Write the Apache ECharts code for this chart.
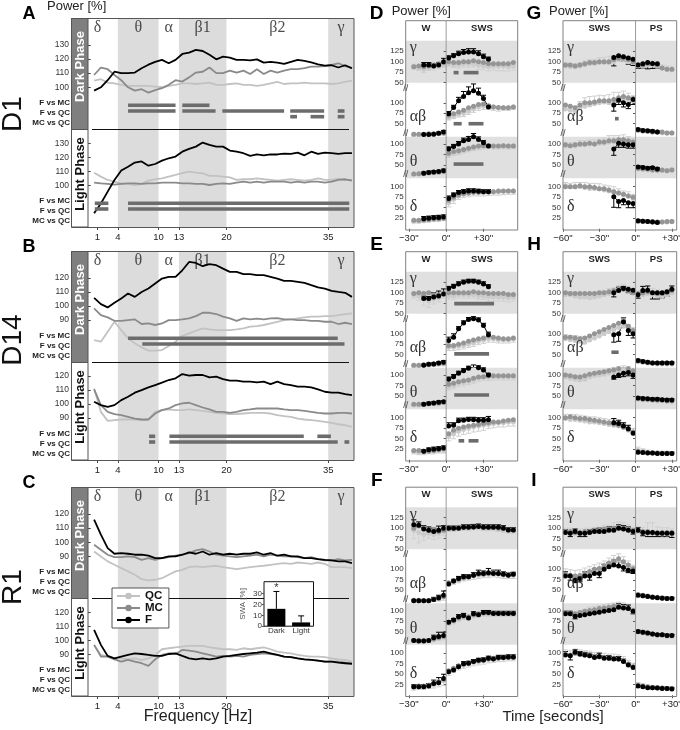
<!DOCTYPE html>
<html><head><meta charset="utf-8"><title>EEG power</title>
<script src="https://cdn.jsdelivr.net/npm/echarts@6.0.0/dist/echarts.min.js"></script>
<style>html,body{margin:0;padding:0;background:#fff;}#chart{width:680px;height:730px;}</style>
</head><body><div id="chart"></div>
<script>
// ================= DATA =================
const freqs = [0.5,1.5,2.5,3.5,4.5,5.5,6.5,7.5,8.5,9.5,10.5,11.5,12.5,13.5,14.5,15.5,16.5,17.5,18.5,19.5,20.5,21.5,22.5,23.5,24.5,25.5,26.5,27.5,28.5,29.5,30.5,31.5,32.5,33.5,34.5,35.5,36.5,37.5,38.5];
const freqTicks = [1,4,10,13,20,35];
const bandRanges = [[4,10],[13,20],[35,38.8]];
const bandNames = ['δ','θ','α','β1','β2','γ'];
const bandLabelFreq = [1,7,11.5,16.5,27.5,36.9];
const sigRowNames = ['F vs MC','F vs QC','MC vs QC'];

const A_dark_QC = [104.7,105.7,103.3,102.8,101.7,101,101,101,101,100.5,100,101,101.7,102.8,102.8,102.3,102.8,103.3,101.7,101.7,102.3,102.8,101.7,101.7,101,101.7,102.8,103.8,102.3,102.8,102.8,103.3,102.8,102.8,102.8,102.3,102.8,103.8,104.7];
const A_dark_MC = [108.7,114,112.8,108.7,105,100,97.6,98.6,96.2,98,99.3,101.7,105,104,107,110.4,111,114,110,110,111.8,110.4,111.8,109.4,112.8,109.4,111.8,110.4,111.8,112.8,112.8,113.5,114.6,114.6,115,115.8,117,115,113.5];
const A_dark_F = [97.6,100,105,111,110,110,110.4,113.5,116,118,119.4,117,119.4,123.6,124.6,126.5,125.7,123,119.8,121.7,121,119.4,119.4,119,119.8,117.5,118,117.5,116.5,118,119.4,118.7,117.7,116.3,115.4,115.6,114,115.6,113.5];
const A_light_QC = [109,106.2,103.8,102.6,101.4,101,100.2,101,103.3,104.3,105,106.2,107.4,108.6,109.8,109,108.6,106.7,106.7,106.2,105.7,103.8,104.3,104.3,105,104.3,103.8,103.3,103.8,104.3,103.8,103.3,103.8,105,103.8,103.8,104.8,103.8,103.8];
const A_light_MC = [101.9,101.4,101,100.5,101,101.4,101.4,101,101.4,101.4,101.9,101.9,101.9,101.4,101.4,101,101,100.2,101,101.4,101,101.9,102.6,101.9,102.6,101.9,102.6,102.6,102.6,101.9,102.6,101.9,102.6,102.6,101.9,102.6,103.8,104.3,103.3];
const A_light_F = [80,87,95.5,103.8,110.5,113.3,116.2,117,114,115.2,117.6,119.3,120.5,124,126,127.6,130.5,128.8,127.6,127.6,124.8,124,122.9,121,122,121.4,122,122,122.6,122.4,123.3,121.4,124,122.4,123.3,122.9,122.4,122.9,122.9];

const B_dark_QC = [75.8,74.6,81.7,88.8,82.9,77,73.5,70.6,68.3,68.3,68.7,71.6,74.6,78.7,80.5,82.4,84.1,83.4,82.9,82.9,82.9,83.4,84.1,85.3,85.7,86.5,87.6,88.8,90,90.5,91.2,91.9,92.4,92.4,92.8,92.8,93.5,94.3,94.7];
const B_dark_MC = [98.3,93.5,91.9,89.5,89.5,90,90.5,87.2,87.6,86.5,87.6,90,90,90.5,91.2,92.8,95.2,95.2,94.3,92.4,91.2,89.5,91.2,90.5,91,90.5,91.2,91.4,90.5,90.5,90,90,89.5,89.5,88.8,88.8,87.2,88.1,87.2];
const B_dark_F = [105.8,101.3,99,102.3,105.4,108.9,106.5,110,112.4,116,119.5,120.7,120.7,125.4,131.3,130.6,128.3,129.7,129,126.6,124.3,124.3,122.6,122.6,121.9,121.9,120.7,119.5,117.9,117.9,117.2,116.5,114.8,113.2,112.4,110.8,110,109.4,106.5];
const B_light_QC = [111,94.3,87.8,88.3,88.8,88.8,88.8,88.3,88.8,94.3,95.5,96,95.5,95.5,96,95.5,95,94.3,93.6,93.1,92.6,92.6,93.1,93.6,93.6,93.6,93.1,91.9,91.2,90.7,89.5,88.8,88.3,87.8,87.1,86.4,85.4,84.7,83.5];
const B_light_MC = [110.4,99.1,94.3,92.6,91.9,90.7,89.5,88.8,88.8,93.1,95.5,96.7,99.1,100.3,100.8,99.1,97.4,96,94.3,94.3,93.6,94.3,95.5,96,96.7,96.7,96.7,96.7,96,95.5,95.5,95,94.3,93.6,93.1,93.1,93.6,93.6,93.1];
const B_light_F = [101.5,99.1,97.9,99.1,102.7,105.1,108,109.9,111.8,113.5,115.2,117.1,118.3,121.4,120.2,120.7,120.7,119,119.5,117.8,116.6,116.6,115.9,115.9,115.4,115.9,114.2,115.9,114.2,113.5,112.3,112.3,111.8,110.4,108.7,108,108,107,106.3];

const C_dark_QC = [93.5,90,86.5,84.1,81.7,79.4,77,73.9,73,73.5,74.6,77,79.4,80.5,82.4,82.9,82.4,82.9,83.4,82.4,81.7,81,81.7,82.4,82.9,83.4,84.1,84.8,85.3,84.8,85.7,85.3,84.8,85.7,84.8,82.4,82.4,82.4,81.7];
const C_dark_MC = [98.3,94.7,91.2,89.5,89.5,90,89.5,87.6,88.8,87.6,88.8,89.5,90.5,91.2,92.4,94.3,95.2,93.5,91.2,90.5,90,89.5,90,90.5,91.2,90,91.2,90.5,90,90,89.5,88.8,89.5,88.1,87.2,87.2,88.1,87.2,87.6];
const C_dark_F = [116,105.4,95.9,91.9,92.4,91.9,91.2,91.2,90.5,88.8,88.8,90,90,91.2,92.8,91.9,93.5,91.2,92.4,91.2,91.9,91.2,91.9,91.9,92.8,91.2,92.4,90.5,91.2,90,90,88.8,88.8,88.1,87.6,87.2,86.5,86.5,85.3];
const C_light_QC = [96.7,89.5,88.3,87.1,87.1,86.4,87.1,85.9,87.1,89.5,93.6,94.3,95,95.5,96,96,96,95,94.3,93.6,93.6,93.1,94.3,93.6,94.3,95,93.6,91.9,91.2,90.7,89.5,88.8,88.3,88.3,87.9,87.1,86.4,86,84.8];
const C_light_MC = [96.7,88.3,88.3,86.4,84.8,86,84.8,83.6,81.7,86.4,89.5,90.7,90.2,93.1,92.6,91.9,90.7,89.5,88.3,88.8,88.3,88.8,88.3,89.5,90.2,90.7,90.2,89.5,88.3,87.9,87.1,86.4,86,85.5,84.8,84.8,84.8,84,83.6];
const C_light_F = [107.4,96.7,88.8,87.1,88.3,89.5,90.7,90.2,89.5,88.8,88.8,90.2,90.7,88.8,87.1,86.4,87.1,86.4,87.1,88.3,88.8,89.5,90.2,90.7,91.2,91.9,90.7,89.5,88.3,87.9,87.1,86.4,86,85.5,84.8,84.8,84,83.6,83.1];

// significance rows: [row (0 F vs MC, 1 F vs QC, 2 MC vs QC), fromHz, toHz]
const A_dark_sig = [[0,5.5,12.5],[0,13.5,17.5],[1,5.5,12.5],[1,13.5,18.4],[1,19.4,28.5],[1,29.4,34.4],[1,36.4,37.4],[2,29.4,30.4],[2,32.4,34.4],[2,36.4,37.4]];
const A_light_sig = [[0,0.6,2.6],[0,5.5,38.1],[1,0.6,2.6],[1,5.5,38.1]];
const B_dark_sig = [[0,5.5,36.4],[1,7.6,37.4]];
const B_light_sig = [[0,8.6,9.5],[0,11.6,31.4],[0,33.4,35.4],[1,8.6,9.5],[1,11.6,36.4],[1,37.4,38.1]];
const C_dark_sig = [];
const C_light_sig = [];

// inset SWA
const swaCats = ['Dark','Light'];
const swaVals = [16,3.5];
const swaErr = [16,6];
const swaMark = ['*',''];

// time (s) relative to transition
const T_WS = [-26,-22,-18,-14,-10,-6,-2,2,6,10,14,18,22,26,30,34,38,42,46,50,54];
const T_SP = [-58,-54,-50,-46,-42,-38,-34,-30,-26,-22,-18,-14,-10,-6,-2,2,6,10,14,18,22,26,30];
const ticksWS = [-30,0,30];
const ticksSP = [-60,-30,0,30];

// Panel D
const D_gam_QC = [90,85,82,85,88,90,92,95,92,92,95,95,95,92,90,88,90,90,90,88,90];
const D_gam_MC = [88,90,88,90,92,95,98,100,98,98,100,100,102,100,98,95,95,95,95,95,98];
const D_gam_F = [null,null,92,92,90,92,100,109,114,119,122,123,123,119,112,106,null,null,null,null,null];
const D_gam_Fe = [null,null,6,6,5,6,8,5,5,6,7,8,8,7,6,5,null,null,null,null,null];
const D_gam_Qe = [-8,-6,-8,-6,-8,-6,-5,-6,-6,-8,-8,-8,-8,-10,-10,-10,-10,-12,-12,-10,-10];
const D_ab_QC = [24,24,25,25,25,26,27,65,68,72,75,80,85,90,92,92,90,88,88,88,90];
const D_ab_MC = [25,25,25,26,26,27,28,70,74,78,82,88,92,96,97,93,90,89,88,88,90];
const D_ab_F = [null,null,24,24,25,27,30,74,89,105,115,124,129,123,110,90,null,null,null,null,null];
const D_ab_Fe = [null,null,3,3,3,3,4,5,5,8,12,14,16,12,8,5,null,null,null,null,null];
const D_ab_Qe = [-3,-3,-3,-3,-3,-3,-3,-6,-6,-6,-8,-8,-8,-8,-8,-8,-8,-8,-6,-6,-6];
const D_th_QC = [28,28,29,30,31,32,33,74,78,80,84,87,90,92,94,95,94,94,95,94,95];
const D_th_MC = [28,29,30,31,32,33,35,78,82,84,87,90,93,95,96,95,95,95,96,95,95];
const D_th_F = [null,null,30,32,33,34,36,88,94,100,108,111,117,111,103,95,null,null,null,null,null];
const D_th_Fe = [null,null,3,3,3,3,4,5,5,6,6,7,8,6,5,4,null,null,null,null,null];
const D_th_Qe = [-3,-3,-3,-3,-3,-3,-3,-6,-6,-6,-6,-6,-6,-6,-6,-6,-6,-6,-6,-6,-6];
const D_de_QC = [18,18,19,20,22,22,24,62,70,78,82,84,86,86,86,87,88,88,89,90,90];
const D_de_MC = [20,20,21,22,23,24,25,68,75,80,83,85,87,87,88,88,88,90,90,90,90];
const D_de_F = [null,null,24,25,26,27,28,72,80,86,88,90,90,89,88,88,null,null,null,null,null];
const D_de_Fe = [null,null,5,5,5,5,5,6,5,5,5,5,5,5,5,5,null,null,null,null,null];
const D_de_Qe = [-4,-4,-4,-4,-4,-4,-4,-10,-10,-8,-8,-8,-8,-8,-8,-8,-8,-8,-8,-8,-8];
const D_sig = [['gam',6,10,74],['gam',14,26,74],['ab',6,12.5,50],['ab',18,30,50],['th',6,30,52]];

// Panel E
const E_gam_QC = [95,92,85,80,85,88,95,92,92,95,95,95,95,92,92,90,90,90,90,88,90];
const E_gam_MC = [98,100,98,100,95,95,98,100,100,100,100,100,102,100,100,98,98,98,98,96,96];
const E_gam_F = [null,null,86,86,90,92,97,110,115,121,125,127,127,125,121,114,null,null,null,null,null];
const E_gam_Fe = [null,null,6,5,10,12,12,5,5,5,5,5,5,5,5,5,null,null,null,null,null];
const E_gam_Qe = [-8,-10,-15,-15,-12,-10,-8,-8,-8,-8,-8,-8,-8,-8,-8,-10,-10,-10,-10,-10,-10];
const E_ab_QC = [24,24,25,25,26,27,28,68,68,70,72,75,78,82,85,88,88,86,86,86,88];
const E_ab_MC = [25,25,26,27,28,29,30,72,72,75,78,82,85,88,90,95,92,90,88,88,90];
const E_ab_F = [null,null,25,27,28,30,32,84,92,112,126,134,136,133,120,98,null,null,null,null,null];
const E_ab_Fe = [null,null,3,3,3,3,4,8,8,5,5,5,5,5,5,6,null,null,null,null,null];
const E_ab_Qe = [-3,-3,-3,-3,-3,-3,-3,-8,-8,-8,-8,-8,-8,-8,-8,-8,-8,-8,-8,-8,-8];
const E_th_QC = [28,28,29,30,31,32,34,72,75,80,82,85,88,92,95,95,96,96,96,96,96];
const E_th_MC = [30,30,30,31,32,33,35,78,80,84,86,88,92,95,96,98,98,98,98,98,98];
const E_th_F = [null,null,30,32,33,35,36,90,96,104,110,116,119,117,112,100,null,null,null,null,null];
const E_th_Fe = [null,null,3,3,3,3,3,5,5,5,5,5,5,5,5,4,null,null,null,null,null];
const E_th_Qe = [-3,-3,-3,-3,-3,-3,-3,-8,-8,-8,-8,-8,-8,-8,-8,-8,-8,-8,-8,-8,-8];
const E_de_QC = [20,18,18,20,20,22,22,55,62,68,72,75,78,80,82,84,86,88,88,90,90];
const E_de_MC = [22,22,20,20,22,24,26,62,70,75,78,80,82,84,86,88,90,90,92,94,95];
const E_de_F = [null,null,20,24,25,26,28,80,82,93,94,96,95,94,94,95,null,null,null,null,null];
const E_de_Fe = [null,null,4,4,5,5,5,8,6,6,5,5,6,6,6,8,null,null,null,null,null];
const E_de_Qe = [-6,-6,-6,-6,-6,-6,-6,-10,-12,-12,-12,-12,-12,-12,-12,-10,-10,-10,-10,-10,-10];
const E_sig = [['gam',6.5,38.5,74],['ab',6.5,34.5,52],['th',6.5,34.5,52],['de',10,14.5,45],['de',18,26,45]];

// Panel F
const F_gam_QC = [95,90,85,88,85,88,92,98,98,100,100,100,102,102,100,100,100,98,96,94,94];
const F_gam_MC = [100,105,100,95,95,92,95,100,100,102,102,102,103,104,102,102,102,100,100,96,96];
const F_gam_F = [108,107,98,95,92,95,100,100,100,100,102,102,103,104,102,102,102,102,100,96,96];
const F_gam_Fe = [12,8,8,8,8,10,6,5,5,5,6,6,6,6,6,6,6,6,6,5,5];
const F_gam_Qe = [-20,-25,-15,-12,-12,-12,-10,-6,-6,-6,-6,-6,-6,-6,-6,-6,-6,-6,-6,-6,-6];
const F_ab_QC = [25,25,25,26,28,30,34,66,70,74,78,80,84,86,88,88,90,88,86,86,86];
const F_ab_MC = [26,26,25,25,28,30,35,68,72,76,80,82,85,88,88,90,92,90,88,88,88];
const F_ab_F = [25,25,25,25,28,32,38,65,72,78,82,82,86,90,90,92,90,90,88,86,88];
const F_ab_Fe = [3,3,3,3,5,6,10,3,4,5,5,5,6,8,6,10,8,8,6,6,5];
const F_ab_Qe = [-3,-3,-3,-3,-5,-6,-8,-6,-6,-6,-6,-6,-8,-8,-8,-8,-8,-8,-8,-8,-8];
const F_th_QC = [28,27,27,28,30,34,38,70,74,80,84,84,88,90,92,92,92,92,92,92,92];
const F_th_MC = [28,28,28,28,32,35,38,72,76,82,86,85,90,92,94,94,94,94,94,94,94];
const F_th_F = [28,27,27,28,35,38,40,72,77,85,88,82,92,90,95,95,93,93,93,93,93];
const F_th_Fe = [3,3,3,3,6,10,8,4,4,5,5,4,5,5,5,5,5,5,5,5,5];
const F_th_Qe = [-3,-3,-3,-3,-5,-6,-8,-6,-6,-6,-6,-6,-6,-6,-6,-6,-6,-6,-6,-6,-6];
const F_de_QC = [18,20,20,22,25,30,35,55,62,68,72,75,78,80,82,85,86,88,88,90,90];
const F_de_MC = [20,22,22,24,28,32,38,58,64,70,74,76,80,82,84,86,88,88,90,90,90];
const F_de_F = [20,20,20,22,28,30,40,56,60,68,75,76,80,83,84,88,86,90,90,91,91];
const F_de_Fe = [5,5,5,6,8,12,10,5,5,5,5,5,5,5,5,5,5,5,5,5,5];
const F_de_Qe = [-6,-6,-6,-6,-8,-10,-12,-8,-8,-8,-8,-8,-8,-8,-8,-8,-8,-8,-8,-8,-8];
const F_sig = [];

// Panel G
const G_gam_QC = [90,88,88,90,92,95,96,98,98,98,100,105,105,100,98,90,90,92,92,90,85,82,80];
const G_gam_MC = [92,92,90,92,95,98,98,100,100,100,105,108,108,105,100,92,92,95,95,92,85,82,82];
const G_gam_F = [null,null,null,null,null,null,null,null,null,null,110,114,112,109,106,92,95,98,96,95,null,null,null];
const G_gam_Fe = [null,null,null,null,null,null,null,null,null,null,-20,-8,-10,-15,-15,-8,-10,-15,-12,-10,null,null,null];
const G_gam_Qe = [8,8,8,8,10,10,10,12,12,15,15,12,12,12,10,8,8,10,10,10,8,8,8];
const G_ab_QC = [85,82,80,88,92,95,98,100,102,100,100,105,110,108,105,34,32,32,30,30,28,28,28];
const G_ab_MC = [95,92,88,95,100,100,102,105,105,105,108,112,115,112,110,35,33,32,30,30,30,28,28];
const G_ab_F = [null,null,null,null,null,null,null,null,null,null,95,106,100,96,108,36,34,33,32,30,null,null,null];
const G_ab_Fe = [null,null,null,null,null,null,null,null,null,null,-15,-10,-10,-10,-12,3,3,3,3,3,null,null,null];
const G_ab_Qe = [10,10,12,15,20,20,18,18,15,20,25,20,18,15,12,3,3,3,3,3,3,3,3];
const G_th_QC = [95,95,95,98,98,100,100,102,102,105,105,108,110,108,105,40,40,38,38,36,36,36,38];
const G_th_MC = [98,96,98,100,100,102,100,105,105,108,108,110,110,108,105,42,40,40,38,38,38,36,38];
const G_th_F = [null,null,null,null,null,null,null,null,null,null,88,102,100,98,98,45,44,42,43,40,null,null,null];
const G_th_Fe = [null,null,null,null,null,null,null,null,null,null,-15,-10,-8,-8,-8,3,3,3,3,3,null,null,null];
const G_th_Qe = [8,8,8,10,10,10,10,10,12,15,15,12,12,10,8,4,4,4,4,4,4,4,4];
const G_de_QC = [102,100,100,100,98,96,96,95,92,90,88,85,80,78,72,18,18,17,16,16,16,16,17];
const G_de_MC = [100,100,100,102,100,100,98,95,95,92,88,85,82,78,75,18,18,17,17,16,16,17,17];
const G_de_F = [null,null,null,null,null,null,null,null,null,null,76,65,67,62,60,19,18,17,16,15,null,null,null];
const G_de_Fe = [null,null,null,null,null,null,null,null,null,null,-25,-15,-10,-12,-10,3,3,3,3,3,null,null,null];
const G_de_Qe = [8,8,10,10,12,12,12,12,12,12,12,10,10,10,10,3,3,3,3,3,3,3,3];
const G_sig = [['ab',-17,-14,62]];

// Panel H
const H_gam_QC = [95,95,92,90,90,88,90,92,95,98,100,105,108,105,100,95,95,98,95,92,92,95,100];
const H_gam_MC = [100,98,98,98,98,98,98,100,100,102,105,108,108,105,100,98,100,102,100,98,98,100,105];
const H_gam_F = [null,null,null,null,null,null,null,null,null,null,100,105,110,108,106,95,105,106,100,100,100,102,108];
const H_gam_Fe = [null,null,null,null,null,null,null,null,null,null,-10,8,5,-8,-10,-8,10,10,-15,-15,-12,-10,8];
const H_gam_Qe = [8,8,8,8,8,8,8,10,10,12,12,12,12,10,10,10,12,15,15,15,12,12,10];
const H_ab_QC = [88,86,84,82,80,85,90,95,100,105,110,115,118,112,105,34,32,30,30,28,28,28,28];
const H_ab_MC = [92,92,90,88,90,95,100,105,110,115,120,125,132,118,108,35,33,32,30,30,30,30,30];
const H_ab_F = [null,null,null,null,null,null,null,null,null,null,98,100,128,108,100,36,34,32,30,30,30,30,30];
const H_ab_Fe = [null,null,null,null,null,null,null,null,null,null,-18,-18,10,-12,-10,3,3,3,3,3,3,3,3];
const H_ab_Qe = [10,10,12,12,12,12,12,12,12,12,12,12,12,10,10,3,3,3,3,3,3,3,3];
const H_th_QC = [95,92,90,88,90,95,98,100,102,105,108,110,112,110,105,42,40,40,40,38,38,38,38];
const H_th_MC = [100,98,96,95,98,102,104,106,108,110,112,115,118,115,110,44,42,42,40,40,40,38,38];
const H_th_F = [null,null,null,null,null,null,null,null,null,null,95,100,104,106,100,45,44,43,42,42,41,40,40];
const H_th_Fe = [null,null,null,null,null,null,null,null,null,null,-5,-6,-8,-8,-8,3,3,3,3,3,3,3,3];
const H_th_Qe = [8,8,8,8,8,8,8,10,10,10,10,10,10,10,8,4,4,4,4,4,4,4,4];
const H_de_QC = [98,96,96,94,92,90,90,88,86,84,82,80,76,70,64,22,20,18,16,16,16,16,15];
const H_de_MC = [100,102,100,98,98,96,94,92,90,88,85,82,78,72,66,20,18,17,16,16,15,15,15];
const H_de_F = [null,null,null,null,null,null,null,null,null,null,88,86,80,74,63,18,17,16,16,15,15,15,15];
const H_de_Fe = [null,null,null,null,null,null,null,null,null,null,10,8,8,8,6,3,3,3,3,3,3,3,3];
const H_de_Qe = [10,12,12,12,12,12,12,12,12,12,12,10,10,10,10,8,6,5,4,4,4,4,4];
const H_sig = [['ab',-20,-14,56]];

// Panel I
const I_gam_QC = [90,90,88,88,90,90,92,92,95,95,98,100,98,96,92,92,90,88,88,88,86,86,86];
const I_gam_MC = [92,92,90,90,92,92,95,95,98,98,100,102,100,98,95,95,92,92,90,90,90,90,90];
const I_gam_F = [90,88,92,88,88,90,92,92,92,95,95,100,98,95,92,95,90,90,90,88,88,88,88];
const I_gam_Fe = [6,-8,6,-8,-8,6,6,8,6,8,8,8,8,8,-6,6,-8,-10,-10,-8,-8,-8,-10];
const I_gam_Qe = [10,10,10,10,10,10,10,10,12,12,15,15,15,12,10,12,12,25,25,15,15,15,12];
const I_ab_QC = [86,84,82,84,88,92,96,100,105,112,118,122,115,108,100,38,36,35,33,32,31,30,30];
const I_ab_MC = [88,86,84,85,90,95,100,102,108,115,120,125,118,110,102,40,38,36,34,33,32,30,30];
const I_ab_F = [84,84,74,78,84,84,90,90,100,106,110,108,104,98,96,38,37,35,33,32,31,30,30];
const I_ab_Fe = [10,-10,-6,-8,10,-10,12,-10,12,10,12,10,-8,-6,-6,3,3,3,3,3,3,3,3];
const I_ab_Qe = [15,15,15,15,15,15,15,15,15,15,15,15,15,12,10,3,3,3,3,3,3,3,3];
const I_th_QC = [92,92,90,92,95,98,100,102,104,106,108,110,108,104,98,48,46,44,42,40,40,38,38];
const I_th_MC = [95,95,92,95,98,100,102,105,106,108,110,110,108,105,100,50,48,46,44,42,42,40,40];
const I_th_F = [92,92,86,88,90,92,94,96,98,100,102,108,106,105,98,50,48,46,44,42,42,40,40];
const I_th_Fe = [6,6,-6,6,6,6,6,6,6,6,8,8,8,8,-6,3,3,3,3,3,3,3,3];
const I_th_Qe = [8,8,8,8,8,10,10,10,10,10,10,10,10,8,8,4,4,4,4,4,4,4,4];
const I_de_QC = [98,96,100,98,96,95,92,92,90,88,88,86,82,75,68,25,22,20,18,18,17,16,16];
const I_de_MC = [97,95,100,97,96,94,92,91,90,88,87,86,82,74,68,24,22,20,18,18,17,16,16];
const I_de_F = [96,94,102,98,96,94,90,92,88,88,86,86,80,72,66,22,20,18,18,17,16,16,15];
const I_de_Fe = [8,-10,6,6,6,6,6,8,6,6,6,6,6,5,5,3,3,3,3,3,3,3,3];
const I_de_Qe = [10,10,10,10,10,10,10,10,10,10,10,10,10,8,8,5,5,4,4,4,4,4,4];
const I_sig = [];

// ================= BUILD =================
const FONT = '"Liberation Sans", Arial, sans-serif';
const SERIF = '"Liberation Serif", "Times New Roman", serif';
const COL = {QC:'#c2c2c2', MC:'#8a8a8a', F:'#000000'};
const RCOL = {QC:'#cbcbcb', MC:'#959595', F:'#000000'};
const SHADE = '#dcdcdc';
const SIGC = '#6c6c6c';

const grids=[], xAxis=[], yAxis=[], series=[], graphic=[];
function gridAdd(o){ grids.push(Object.assign({outerBoundsMode:'none', containLabel:false}, o)); return grids.length-1; }
function xAdd(o){ xAxis.push(o); return xAxis.length-1; }
function yAdd(o){ yAxis.push(o); return yAxis.length-1; }
function T(x,y,text,size,o){ o=o||{};
  graphic.push({type:'text', x:x, y:y, z:o.z||20, rotation:o.rot||0, silent:true,
    style:{text:text, fill:o.color||'#111', font:(o.weight||'normal')+' '+size+'px '+(o.family||FONT),
      textAlign:o.align||'center', textVerticalAlign:'middle', align:o.align||'center', verticalAlign:'middle'}});
}
function rect(x,y,w,h,fill,stroke,z){ graphic.push({type:'rect', z:z, silent:true, shape:{x:x,y:y,width:w,height:h}, style:{fill:fill, stroke:stroke, lineWidth:1}}); }
function line(x1,y1,x2,y2,stroke,w,z){ graphic.push({type:'line', z:z, silent:true, shape:{x1:x1,y1:y1,x2:x2,y2:y2}, style:{stroke:stroke, lineWidth:w}}); }

// ---- left panels ----
const PL=88, PW=266, FMIN=-0.4, FMAX=38.8;
const leftPanels = [
  {letter:'A', name:'D1', nameY:114, oy:0, d:[A_dark_QC,A_dark_MC,A_dark_F], l:[A_light_QC,A_light_MC,A_light_F], ds:A_dark_sig, ls:A_light_sig, dR:[70.4,149.1], lR:[70.2,140.2], dT:[100,110,120,130], lT:[100,110,120,130]},
  {letter:'B', name:'D14', nameY:340, oy:233, d:[B_dark_QC,B_dark_MC,B_dark_F], l:[B_light_QC,B_light_MC,B_light_F], ds:B_dark_sig, ls:B_light_sig, dR:[60.2,139.1], lR:[59.8,130], dT:[90,100,110,120], lT:[90,100,110,120]},
  {letter:'C', name:'R1', nameY:587, oy:469, d:[C_dark_QC,C_dark_MC,C_dark_F], l:[C_light_QC,C_light_MC,C_light_F], ds:C_dark_sig, ls:C_light_sig, dR:[60.6,139.1], lR:[60.2,130.2], dT:[90,100,110,120], lT:[90,100,110,120]}
];
function hiddenX(gi,min,max){ return xAdd({type:'value', gridIndex:gi, min:min, max:max, show:false}); }
function valY(gi, R, ticks){
  return yAdd({type:'value', gridIndex:gi, min:R[0], max:R[1], offset:17, axisLine:{show:false}, splitLine:{show:false},
    axisTick:{show:true, customValues:ticks, length:3, lineStyle:{color:'#444'}},
    axisLabel:{customValues:ticks, fontSize:8.5, color:'#333', margin:2, fontFamily:FONT}});
}
function curve(name, xi, yi, arr){
  return {type:'line', name:name, xAxisIndex:xi, yAxisIndex:yi, data:freqs.map((f,i)=>[f,arr[i]]), showSymbol:false, symbol:'circle', symbolSize:8,
    lineStyle:{color:COL[name], width:1.8}, itemStyle:{color:COL[name]}, silent:true, z:2};
}
function sigGrid(top, sig){
  const gi = gridAdd({left:PL, top:top, width:PW, height:30});
  const xi = hiddenX(gi, FMIN, FMAX);
  yAdd({type:'category', gridIndex:gi, data:sigRowNames, inverse:true, offset:17, axisLine:{show:false}, axisTick:{show:false},
    axisLabel:{interval:0, fontSize:8, fontWeight:'bold', color:'#222', margin:1, fontFamily:FONT}});
  const yv = yAdd({type:'value', gridIndex:gi, min:-1.33, max:3.93, inverse:true, show:false});
  series.push({type:'custom', xAxisIndex:xi, yAxisIndex:yv, silent:true, z:3,
    data: sig.map(s=>[s[1], s[0], s[2]]),
    renderItem:(pa, api)=>{ const a=api.coord([api.value(0), api.value(1)]), b=api.coord([api.value(2), api.value(1)]);
      return {type:'rect', shape:{x:a[0], y:a[1]-1.8, width:b[0]-a[0], height:3.6}, style:{fill:SIGC}}; }});
}
leftPanels.forEach(p=>{
  const top=18+p.oy, div=129+p.oy, bot=227+p.oy;
  const gb = gridAdd({left:PL, top:top, width:PW, height:bot-top});
  const xb = xAdd({type:'value', gridIndex:gb, min:FMIN, max:FMAX, axisLine:{show:false}, splitLine:{show:false},
    axisTick:{show:true, customValues:freqTicks, length:3, lineStyle:{color:'#444'}},
    axisLabel:{customValues:freqTicks, fontSize:9.5, color:'#222', margin:5, fontFamily:FONT}});
  const yb = yAdd({type:'value', gridIndex:gb, min:0, max:1, show:false});
  series.push({type:'scatter', xAxisIndex:xb, yAxisIndex:yb, symbolSize:1, itemStyle:{color:'rgba(0,0,0,0)'}, silent:true, z:1,
    data: bandNames.map((n,i)=>({name:n, value:[bandLabelFreq[i], 0.955]})),
    label:{show:true, position:'inside', formatter:'{b}', fontFamily:SERIF, fontSize:16, color:'#222'},
    markArea:{silent:true, itemStyle:{color:SHADE}, data: bandRanges.map(r=>[{xAxis:r[0]},{xAxis:r[1]}])}});
  // dark phase curves
  const gd = gridAdd({left:PL, top:top, width:PW, height:div-top});
  const xd = hiddenX(gd, FMIN, FMAX);
  const yd = valY(gd, p.dR, p.dT);
  series.push(curve('QC', xd, yd, p.d[0]), curve('MC', xd, yd, p.d[1]), curve('F', xd, yd, p.d[2]));
  sigGrid(div-31.3, p.ds);
  // light phase curves
  const gl = gridAdd({left:PL, top:div, width:PW, height:bot-div});
  const xl = hiddenX(gl, FMIN, FMAX);
  const yl = valY(gl, p.lR, p.lT);
  series.push(curve('QC', xl, yl, p.l[0]), curve('MC', xl, yl, p.l[1]), curve('F', xl, yl, p.l[2]));
  sigGrid(bot-31.3, p.ls);
  // frame
  rect(71.5, top+0.5, 16.5, div-top, '#7f7f7f', '#555', 10);
  rect(71.5, div+0.5, 16.5, bot-div-0.5, '#ffffff', '#555', 10);
  rect(71.5, top+0.5, 282.5, bot-top, 'none', '#555', 11);
  line(92, div+0.5, 349, div+0.5, '#111', 1.2, 3);
  T(80, top+48.5, 'Dark Phase', 13, {rot:Math.PI/2, weight:'bold', color:'#fff', z:12});
  T(80, div+45, 'Light Phase', 13, {rot:Math.PI/2, weight:'bold', color:'#111', z:12});
  T(13, p.nameY, p.name, 28, {rot:Math.PI/2, color:'#111'});
  T(29, 14+p.oy, p.letter, 18, {weight:'bold', color:'#000'});
});
T(47, 6, 'Power [%]', 13, {align:'left', color:'#222'});
T(198, 717, 'Frequency [Hz]', 16, {color:'#222'});

// inset SWA
{
  const gi = gridAdd({left:264, top:581.7, width:49.5, height:44.5, show:true, backgroundColor:'#fff', borderColor:'#111', borderWidth:1, z:6});
  const xi = xAdd({type:'category', gridIndex:gi, data:swaCats, z:7, axisLine:{show:false}, axisTick:{show:false},
    axisLabel:{interval:0, fontSize:8, color:'#333', margin:1, fontFamily:FONT}});
  const yi = yAdd({type:'value', gridIndex:gi, min:0, max:41, z:7, name:'SWA [%]', nameLocation:'middle', nameRotate:90, nameGap:17,
    nameTextStyle:{fontSize:8, color:'#555', fontFamily:FONT}, axisLine:{show:false}, splitLine:{show:false},
    axisTick:{show:true, customValues:[0,10,20,30], length:2, lineStyle:{color:'#555'}},
    axisLabel:{customValues:[0,10,20,30], fontSize:8, color:'#333', margin:2, fontFamily:FONT}});
  series.push({type:'bar', xAxisIndex:xi, yAxisIndex:yi, data:swaVals, barWidth:18, itemStyle:{color:'#000'}, silent:true, z:7});
  series.push({type:'custom', xAxisIndex:xi, yAxisIndex:yi, silent:true, z:8,
    data: swaVals.map((v,i)=>[i, v, swaErr[i]]),
    renderItem:(pa, api)=>{ const i=api.value(0), v=api.value(1), e=api.value(2);
      const a=api.coord([i,v]), b=api.coord([i,v+e]);
      const ch=[{type:'line', shape:{x1:a[0],y1:a[1],x2:b[0],y2:b[1]}, style:{stroke:'#000', lineWidth:1}},
                {type:'line', shape:{x1:b[0]-3,y1:b[1],x2:b[0]+3,y2:b[1]}, style:{stroke:'#000', lineWidth:1}}];
      const m = swaMark[pa.dataIndex];
      if (m) ch.push({type:'text', style:{text:m, x:b[0], y:b[1]-3, fill:'#333', font:'11px '+FONT, textAlign:'center', textVerticalAlign:'middle', align:'center', verticalAlign:'middle'}});
      return {type:'group', children:ch}; }});
}

// ---- right panels ----
const RG = [
  {k:'gam', top:40.7, bot:82.7, min:50, max:150, ticks:[50,75,100,125], shade:true, greek:'γ', gy:48},
  {k:'ab', top:82.7, bot:136.7, min:19, max:148, ticks:[50,75,100], shade:false, greek:'αβ', gy:117},
  {k:'th', top:136.7, bot:178.3, min:18, max:117.4, ticks:[50,75,100], shade:true, greek:'θ', gy:162},
  {k:'de', top:178.3, bot:230, min:-3, max:120, ticks:[25,50,75,100], shade:false, greek:'δ', gy:207}
];
const RP = [
  {letter:'D', L:405.7, W:112, oy:0, T:T_WS, xr:[-32.5,57.5], xt:ticksWS, heads:['W','SWS'], power:true, sig:D_sig,
   rows:{gam:[D_gam_QC,D_gam_MC,D_gam_F,D_gam_Fe,D_gam_Qe], ab:[D_ab_QC,D_ab_MC,D_ab_F,D_ab_Fe,D_ab_Qe], th:[D_th_QC,D_th_MC,D_th_F,D_th_Fe,D_th_Qe], de:[D_de_QC,D_de_MC,D_de_F,D_de_Fe,D_de_Qe]}},
  {letter:'E', L:405.7, W:112, oy:231, T:T_WS, xr:[-32.5,57.5], xt:ticksWS, heads:['W','SWS'], power:false, sig:E_sig,
   rows:{gam:[E_gam_QC,E_gam_MC,E_gam_F,E_gam_Fe,E_gam_Qe], ab:[E_ab_QC,E_ab_MC,E_ab_F,E_ab_Fe,E_ab_Qe], th:[E_th_QC,E_th_MC,E_th_F,E_th_Fe,E_th_Qe], de:[E_de_QC,E_de_MC,E_de_F,E_de_Fe,E_de_Qe]}},
  {letter:'F', L:405.7, W:112, oy:466.5, T:T_WS, xr:[-32.5,57.5], xt:ticksWS, heads:['W','SWS'], power:false, sig:F_sig,
   rows:{gam:[F_gam_QC,F_gam_MC,F_gam_F,F_gam_Fe,F_gam_Qe], ab:[F_ab_QC,F_ab_MC,F_ab_F,F_ab_Fe,F_ab_Qe], th:[F_th_QC,F_th_MC,F_th_F,F_th_Fe,F_th_Qe], de:[F_de_QC,F_de_MC,F_de_F,F_de_Fe,F_de_Qe]}},
  {letter:'G', L:563, W:113.7, oy:0, T:T_SP, xr:[-60,34], xt:ticksSP, heads:['SWS','PS'], power:true, sig:G_sig,
   rows:{gam:[G_gam_QC,G_gam_MC,G_gam_F,G_gam_Fe,G_gam_Qe], ab:[G_ab_QC,G_ab_MC,G_ab_F,G_ab_Fe,G_ab_Qe], th:[G_th_QC,G_th_MC,G_th_F,G_th_Fe,G_th_Qe], de:[G_de_QC,G_de_MC,G_de_F,G_de_Fe,G_de_Qe]}},
  {letter:'H', L:563, W:113.7, oy:231, T:T_SP, xr:[-60,34], xt:ticksSP, heads:['SWS','PS'], power:false, sig:H_sig,
   rows:{gam:[H_gam_QC,H_gam_MC,H_gam_F,H_gam_Fe,H_gam_Qe], ab:[H_ab_QC,H_ab_MC,H_ab_F,H_ab_Fe,H_ab_Qe], th:[H_th_QC,H_th_MC,H_th_F,H_th_Fe,H_th_Qe], de:[H_de_QC,H_de_MC,H_de_F,H_de_Fe,H_de_Qe]}},
  {letter:'I', L:563, W:113.7, oy:466.5, T:T_SP, xr:[-60,34], xt:ticksSP, heads:['SWS','PS'], power:false, sig:I_sig,
   rows:{gam:[I_gam_QC,I_gam_MC,I_gam_F,I_gam_Fe,I_gam_Qe], ab:[I_ab_QC,I_ab_MC,I_ab_F,I_ab_Fe,I_ab_Qe], th:[I_th_QC,I_th_MC,I_th_F,I_th_Fe,I_th_Qe], de:[I_de_QC,I_de_MC,I_de_F,I_de_Fe,I_de_Qe]}}
];
function fmtT(v){ return v===0 ? '0"' : (v<0 ? '\u2212'+(-v)+'"' : '+'+v+'"'); }
function addSeg(xi, yi, Tm, arr, color){
  [-1,1].forEach(s=>{ const d=[]; Tm.forEach((t,i)=>{ if(arr[i]!=null && (s<0 ? t<0 : t>0)) d.push([t, arr[i]]); });
    if (d.length) series.push({type:'line', xAxisIndex:xi, yAxisIndex:yi, data:d, symbol:'circle', symbolSize:5, showSymbol:true,
      lineStyle:{color:color, width:1}, itemStyle:{color:color}, silent:true, z:2}); });
}
function errS(xi, yi, Tm, arr, err, color){
  const d=[]; Tm.forEach((t,i)=>{ if(arr[i]!=null && err[i]!=null) d.push([t, arr[i], err[i]]); });
  return {type:'custom', xAxisIndex:xi, yAxisIndex:yi, data:d, silent:true, z:2,
    renderItem:(pa, api)=>{ const x=api.value(0), y=api.value(1), e=api.value(2);
      const a=api.coord([x,y]), b=api.coord([x,y+e]);
      return {type:'group', children:[
        {type:'line', shape:{x1:a[0],y1:a[1],x2:b[0],y2:b[1]}, style:{stroke:color, lineWidth:1}},
        {type:'line', shape:{x1:b[0]-2.6,y1:b[1],x2:b[0]+2.6,y2:b[1]}, style:{stroke:color, lineWidth:1}}]}; }};
}
RP.forEach(p=>{
  const boxTop=20.7+p.oy, boxBot=230+p.oy;
  // frame with transition line
  const gf = gridAdd({left:p.L, width:p.W, top:boxTop, height:boxBot-boxTop, show:true, backgroundColor:'rgba(0,0,0,0)', borderColor:'#808080', borderWidth:1, z:5});
  const xf = xAdd({type:'value', gridIndex:gf, min:p.xr[0], max:p.xr[1], show:false});
  const yf = yAdd({type:'value', gridIndex:gf, min:0, max:1, show:false});
  series.push({type:'custom', xAxisIndex:xf, yAxisIndex:yf, data:[[0,0]], silent:true, z:4,
    renderItem:(pa, api)=>{ const a=api.coord([api.value(0),0]), b=api.coord([api.value(0),1]);
      return {type:'line', shape:{x1:a[0],y1:a[1],x2:b[0],y2:b[1]}, style:{stroke:'#9a9a9a', lineWidth:1}}; }});
  RG.forEach((r, ri)=>{
    const last = ri===RG.length-1;
    const gi = gridAdd({left:p.L, width:p.W, top:p.oy+r.top, height:r.bot-r.top, show:r.shade, backgroundColor:'#e0e0e0', borderWidth:0});
    const xi = xAdd(last ? {type:'value', gridIndex:gi, min:p.xr[0], max:p.xr[1], axisLine:{show:false}, splitLine:{show:false},
        axisTick:{show:true, customValues:p.xt, length:3, lineStyle:{color:'#555'}},
        axisLabel:{customValues:p.xt, formatter:fmtT, fontSize:9.5, color:'#222', margin:3, fontFamily:FONT}}
      : {type:'value', gridIndex:gi, min:p.xr[0], max:p.xr[1], show:false});
    const yi = yAdd({type:'value', gridIndex:gi, min:r.min, max:r.max, axisLine:{show:false}, splitLine:{show:false},
      axisTick:{show:true, customValues:r.ticks, length:2.5, lineStyle:{color:'#555'}},
      axisLabel:{customValues:r.ticks, fontSize:8, color:'#333', margin:2, fontFamily:FONT}});
    const [qc, mc, f, fe, qe] = p.rows[r.k];
    series.push(errS(xi, yi, p.T, qc, qe, '#d0d0d0'));
    addSeg(xi, yi, p.T, qc, RCOL.QC);
    addSeg(xi, yi, p.T, mc, RCOL.MC);
    series.push(errS(xi, yi, p.T, f, fe, '#000'));
    addSeg(xi, yi, p.T, f, RCOL.F);
    const sg = p.sig.filter(s=>s[0]===r.k);
    if (sg.length) series.push({type:'custom', xAxisIndex:xi, yAxisIndex:yi, silent:true, z:3,
      data: sg.map(s=>[s[1], s[3], s[2]]),
      renderItem:(pa, api)=>{ const a=api.coord([api.value(0), api.value(1)]), b=api.coord([api.value(2), api.value(1)]);
        return {type:'rect', shape:{x:a[0], y:a[1]-1.8, width:b[0]-a[0], height:3.6}, style:{fill:SIGC}}; }});
    T(p.L+4, p.oy+r.gy, r.greek, 16, {align:'left', family:SERIF, color:'#333', z:15});
  });
  [88.3,133.3,175].forEach(y=>T(p.L, p.oy+y, '//', 9, {color:'#444', z:15}));
  const x0 = p.L + (0-p.xr[0])/(p.xr[1]-p.xr[0])*p.W;
  T((p.L+x0)/2, p.oy+28, p.heads[0], 9.5, {weight:'bold', color:'#222'});
  T((x0+p.L+p.W)/2, p.oy+28, p.heads[1], 9.5, {weight:'bold', color:'#222'});
  T(p.L-29, p.oy+14, p.letter, 19, {weight:'bold', color:'#000'});
  if (p.power) T(p.L-14, p.oy+11, 'Power [%]', 13, {align:'left', color:'#222'});
});
T(553, 717, 'Time [seconds]', 15, {color:'#222'});

const chart = echarts.init(document.getElementById('chart'), null, {renderer:'canvas', width:680, height:730});
chart.setOption({
  animation:false, backgroundColor:'#ffffff',
  grid:grids, xAxis:xAxis, yAxis:yAxis, series:series,
  legend:{show:true, data:['QC','MC','F'], orient:'vertical', left:112, top:588, itemWidth:23, itemHeight:8, itemGap:0,
    padding:[2,6,2,4], borderColor:'#555', borderWidth:1, backgroundColor:'#fff', selectedMode:false, z:6,
    textStyle:{fontFamily:FONT, fontSize:11.5, fontWeight:'bold', color:'#111', lineHeight:12}},
  graphic:{elements:graphic}
});
</script></body></html>
